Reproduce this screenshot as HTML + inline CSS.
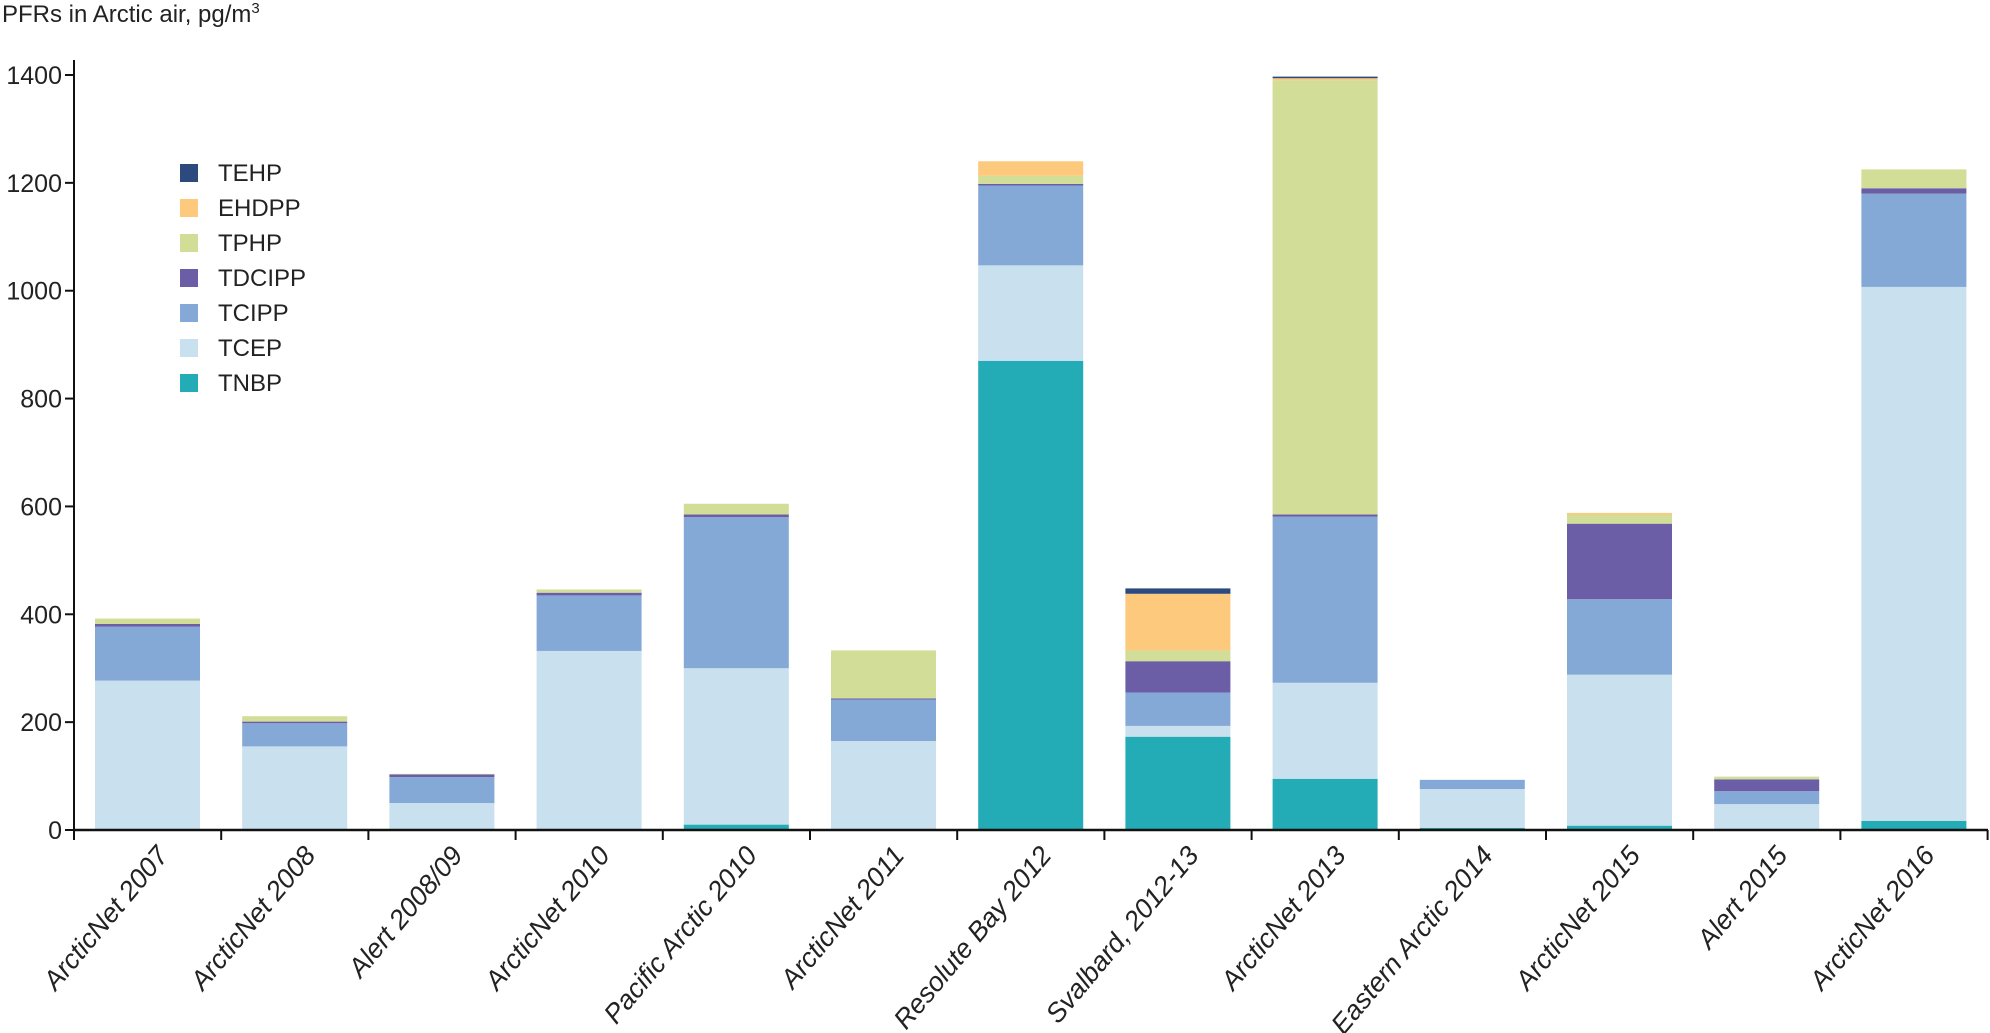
<!DOCTYPE html>
<html><head><meta charset="utf-8"><style>
html,body{margin:0;padding:0;background:#fff;}
svg{display:block;font-family:"Liberation Sans",sans-serif;}
</style></head><body>
<svg id="chart" width="1990" height="1033" viewBox="0 0 1990 1033" xmlns="http://www.w3.org/2000/svg">
<text x="2" y="22" font-size="24" fill="#222">PFRs in Arctic air, pg/m<tspan font-size="15" dy="-9">3</tspan></text>
<g id="plot"></g>
</svg>
<script>
const categories=["ArcticNet 2007","ArcticNet 2008","Alert 2008/09","ArcticNet 2010","Pacific Arctic 2010","ArcticNet 2011","Resolute Bay 2012","Svalbard, 2012-13","ArcticNet 2013","Eastern Arctic 2014","ArcticNet 2015","Alert 2015","ArcticNet 2016"];
const seriesNames=["TNBP","TCEP","TCIPP","TDCIPP","TPHP","EHDPP","TEHP"];
const seriesColors=["#23acb5","#c9e0ee","#85a9d6","#6c5ea6","#d2dd97","#fdc97c","#2d4a7e"];
const TNBP=[0,0,0,0,10,0,870,173,95,4,8,0,17];
const TCEP=[277,155,50,332,290,165,177,20,178,72,280,48,990];
const TCIPP=[100,43,48,103,280,77,148,62,308,17,140,24,173];
const TDCIPP=[5,3,5,5,5,2,3,58,4,0,140,22,10];
const TPHP=[10,10,1,6,20,89,15,20,805,0,17,5,35];
const EHDPP=[0,0,0,0,0,0,27,105,4,0,3,0,0];
const TEHP=[0,0,0,0,0,0,0,10,3,0,0,0,0];
const yTicks=[0,200,400,600,800,1000,1200,1400];
const series=[TNBP,TCEP,TCIPP,TDCIPP,TPHP,EHDPP,TEHP];

const NS="http://www.w3.org/2000/svg";
const g=document.getElementById('plot');
const x0=74, xEnd=1988, y0=830, yTop=75, step=147.2, bw=105;
const yScale=v=>y0-v*(y0-yTop)/1400;
const xBand=i=>x0+i*step;
function mk(t,a){const e=document.createElementNS(NS,t);for(const k in a)e.setAttribute(k,a[k]);g.appendChild(e);return e;}

categories.forEach((c,i)=>{
  let acc=0;
  series.forEach((s,j)=>{
    const v=s[i]; if(v<=0)return;
    const r=mk('rect',{x:xBand(i)+21,y:yScale(acc+v),width:bw,height:yScale(acc)-yScale(acc+v),fill:seriesColors[j]});
    
    
    acc+=v;
  });
});
let a=mk('line',{x1:x0,y1:60,x2:x0,y2:y0,stroke:'#111','stroke-width':2});


a=mk('line',{x1:x0-1,y1:y0,x2:xEnd,y2:y0,stroke:'#111','stroke-width':2.5});


yTicks.forEach(t=>{
  const y=yScale(t);
  const l=mk('line',{x1:x0-9,y1:y,x2:x0,y2:y,stroke:'#111','stroke-width':2});
  
  
  const tx=mk('text',{x:x0-12,y:y+9,'text-anchor':'end','font-size':25,fill:'#222'});
  tx.textContent=t;
  
  
});
for(let i=0;i<=categories.length;i++){
  const l=mk('line',{x1:xBand(i),y1:y0,x2:xBand(i),y2:y0+10,stroke:'#111','stroke-width':2});
  
  
}
categories.forEach((c,i)=>{
  const cx=xBand(i)+step/2+22, cy=y0+26;
  const t=mk('text',{x:cx,y:cy,'text-anchor':'end','font-size':27,fill:'#222','font-style':'italic',transform:`rotate(-50 ${cx} ${cy})`});
  t.textContent=c;
  
  
});
const legOrder=[6,5,4,3,2,1,0];
legOrder.forEach((j,k)=>{
  const y=164+k*35;
  const r=mk('rect',{x:180,y:y,width:18,height:18,fill:seriesColors[j]});
  
  
  const t=mk('text',{x:218,y:y+17,'font-size':24,fill:'#222'});
  t.textContent=seriesNames[j];
  
  
});
</script>
</body></html>
